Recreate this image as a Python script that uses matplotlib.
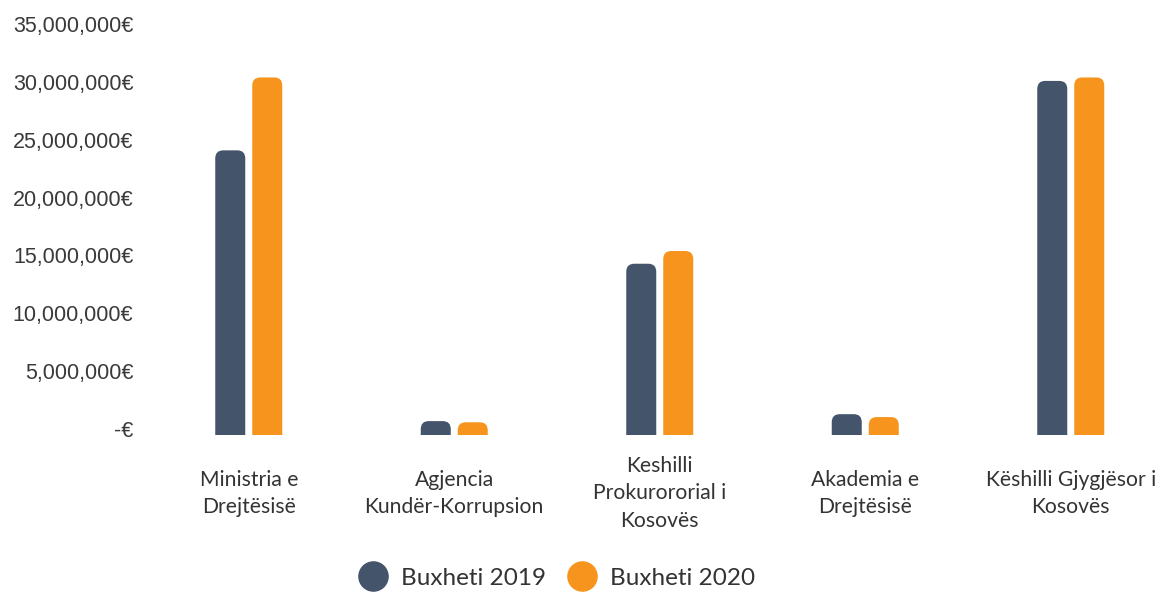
import numpy as np
import matplotlib
matplotlib.use('Agg')
import matplotlib.pyplot as plt
from matplotlib.patches import FancyBboxPatch
from matplotlib.lines import Line2D
from matplotlib.transforms import ScaledTranslation

#%% data
categories = ['Ministria e\nDrejtësisë', 'Agjencia\nKundër-Korrupsion',
              'Keshilli\nProkurororial i\nKosovës', 'Akademia e\nDrejtësisë',
              'Këshilli Gjygjësor i\nKosovës']
budget_2019 = [24600000, 1200000, 14800000, 1800000, 30600000]
budget_2020 = [30900000, 1100000, 15900000, 1550000, 30900000]
series_names = ['Buxheti 2019', 'Buxheti 2020']
yticks = [0, 5000000, 10000000, 15000000, 20000000, 25000000, 30000000, 35000000]

col_19 = '#44546A'
col_20 = '#F7941D'
txt_col = '#333333'

#%% figure
fig = plt.figure(figsize=(11.58, 5.92), dpi=100)
W, H = 1158., 592.
ax = fig.add_axes([146/W, (H-435)/H, 1 - 146/W, (435-30)/H])

x = np.arange(len(categories))
bw = 30/205.5
off = 18.5/205.5
ax.set_xlim(-0.5, -0.5 + (W-146)/205.5)
ax.set_ylim(0, 35000000)

# draw bars, then swap for rounded-top patches
bars1 = ax.bar(x - off, budget_2019, bw, color=col_19)
bars2 = ax.bar(x + off, budget_2020, bw, color=col_20)

px_x = 1/205.5                      # data units per pixel (x)
px_y = 35000000/405.                # data units per pixel (y)
r = 8*px_x
asp = px_y/px_x
for bars, c in ((bars1, col_19), (bars2, col_20)):
    for b in bars:
        bx, by = b.get_x(), b.get_y()
        w, h = b.get_width(), b.get_height()
        b.remove()
        # box padded by r on each side, bottom pushed below the axis so only the top is round
        p = FancyBboxPatch((bx + r, by - 2*r*asp), w - 2*r, h + r*asp,
                           boxstyle='round,pad=%f,rounding_size=%f' % (r, r),
                           mutation_aspect=asp,
                           facecolor=c, edgecolor='none')
        ax.add_patch(p)

for s in ax.spines.values():
    s.set_visible(False)

ax.set_yticks(yticks)
ax.set_yticklabels(['-€' if v == 0 else '{:,}€'.format(v) for v in yticks],
                   fontsize=15.5, color='#3a3a3a', family='Liberation Sans')
ax.tick_params(axis='y', length=0, pad=9)
for lbl in ax.get_yticklabels():
    lbl.set_transform(lbl.get_transform() + ScaledTranslation(0, 6/100., fig.dpi_scale_trans))

ax.set_xticks(x)
ax.set_xticklabels(categories, fontsize=15.2, color=txt_col, family='Lato',
                   linespacing=1.45)
ax.tick_params(axis='x', length=0, pad=42)
for lbl in ax.get_xticklabels():
    lbl.set_va('center')

handles = [Line2D([], [], marker='o', ls='none', ms=21, color=col_19),
           Line2D([], [], marker='o', ls='none', ms=21, color=col_20)]
fig.legend(handles, series_names, loc='center', ncol=2,
           bbox_to_anchor=(558/W, 14/H), frameon=False,
           prop={'family': 'Lato', 'size': 17.5}, labelcolor=txt_col,
           handletextpad=0.65, columnspacing=1.0, handlelength=1.0)

fig.savefig('out.png', dpi=100)
